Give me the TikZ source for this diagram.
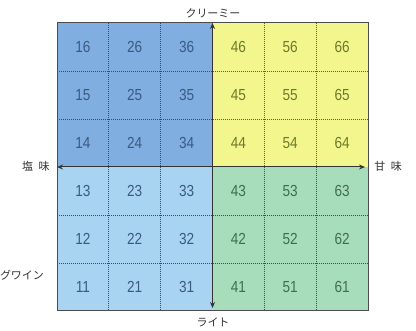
\documentclass[tikz,border=0pt]{standalone}
\usepackage{fontspec}
\setmainfont{Liberation Sans}
\newfontfamily\jp{Noto Sans CJK JP}
\usetikzlibrary{arrows.meta}
\definecolor{fillTL}{HTML}{80AEE0}
\definecolor{fillBL}{HTML}{A8D4F2}
\definecolor{fillTR}{HTML}{F2F68C}
\definecolor{fillBR}{HTML}{A8DDBB}
\definecolor{txtB}{HTML}{3A5A80}
\definecolor{txtY}{HTML}{6E7A2A}
\definecolor{txtG}{HTML}{3E6E4E}
\definecolor{lineB}{HTML}{2F4F78}
\definecolor{lineY}{HTML}{5E6A1E}
\definecolor{lineG}{HTML}{2E5E3E}
\definecolor{labelc}{HTML}{333333}
\tikzset{
  num/.style={font=\fontsize{16}{16}\selectfont, inner sep=0pt},
  axislabel/.style={font=\jp\fontsize{11}{12}\selectfont, text=labelc, inner sep=1pt},
  gridline/.style={dash pattern=on 1pt off 1pt, line width=0.8pt},
  axisline/.style={line width=1pt, draw=black!80, -{Stealth[length=6pt,width=5pt]}},
}
\begin{document}
\begin{tikzpicture}[x=1pt,y=-1pt]
\useasboundingbox (0,0) rectangle (416,331);
\def\cw{51.833}
\def\ch{48}
% quadrant fills
\fill[fillTL] (57,23) rectangle (212.5,167);
\fill[fillTR] (212.5,23) rectangle (368,167);
\fill[fillBL] (57,167) rectangle (212.5,311);
\fill[fillBR] (212.5,167) rectangle (368,311);
% dotted grid lines
\foreach \k in {1,2} {
  \draw[gridline, lineB] ({57+\k*\cw},23) -- ({57+\k*\cw},311);
  \draw[gridline, lineB] (57,{23+\k*\ch}) -- (212.5,{23+\k*\ch});
  \draw[gridline, lineB] (57,{167+\k*\ch}) -- (212.5,{167+\k*\ch});
}
\foreach \k in {4,5} {
  \draw[gridline, lineY] ({57+\k*\cw},23) -- ({57+\k*\cw},167);
  \draw[gridline, lineG] ({57+\k*\cw},167) -- ({57+\k*\cw},311);
}
\foreach \k in {1,2} {
  \draw[gridline, lineY] (212.5,{23+\k*\ch}) -- (368,{23+\k*\ch});
  \draw[gridline, lineG] (212.5,{167+\k*\ch}) -- (368,{167+\k*\ch});
}
% outer border
\draw[line width=1pt, draw=black!70] (57,23) rectangle (368,311);
% numbers
\foreach \i in {1,...,6} {
  \foreach \j in {1,...,6} {
    \pgfmathsetmacro{\cx}{57+(\i-0.5)*\cw}
    \pgfmathsetmacro{\cy}{311-(\j-0.5)*\ch}
    \ifnum\i<4
      \def\tc{txtB}
    \else
      \ifnum\j>3 \def\tc{txtY}\else\def\tc{txtG}\fi
    \fi
    \node[num, text=\tc] (c\i\j) at (\cx,\cy) {\scalebox{0.85}[1]{\i\j}};
  }
}
% axes
\coordinate (vtop) at (212.5,23);
\coordinate (vbot) at (212.5,308);
\coordinate (hleft) at (57,167);
\coordinate (hright) at (365,167);
\coordinate (vmid) at (212.5,167);
\draw[axisline] (vmid) -- (vtop);
\draw[axisline] (vmid) -- (vbot);
\draw[axisline] (vmid) -- (hleft);
\draw[axisline] (vmid) -- (hright);
% labels
\node[axislabel] (creamy) at (213,13) {クリーミー};
\node[axislabel] (light) at (213,322) {ライト};
\node[axislabel] (sweet) at (388,166) {甘\hspace{0.5em}味};
\node[axislabel] (salty) at (36,166) {塩\hspace{0.5em}味};
\node[axislabel] (gwine) at (22,275) {グワイン};
\end{tikzpicture}
\end{document}
